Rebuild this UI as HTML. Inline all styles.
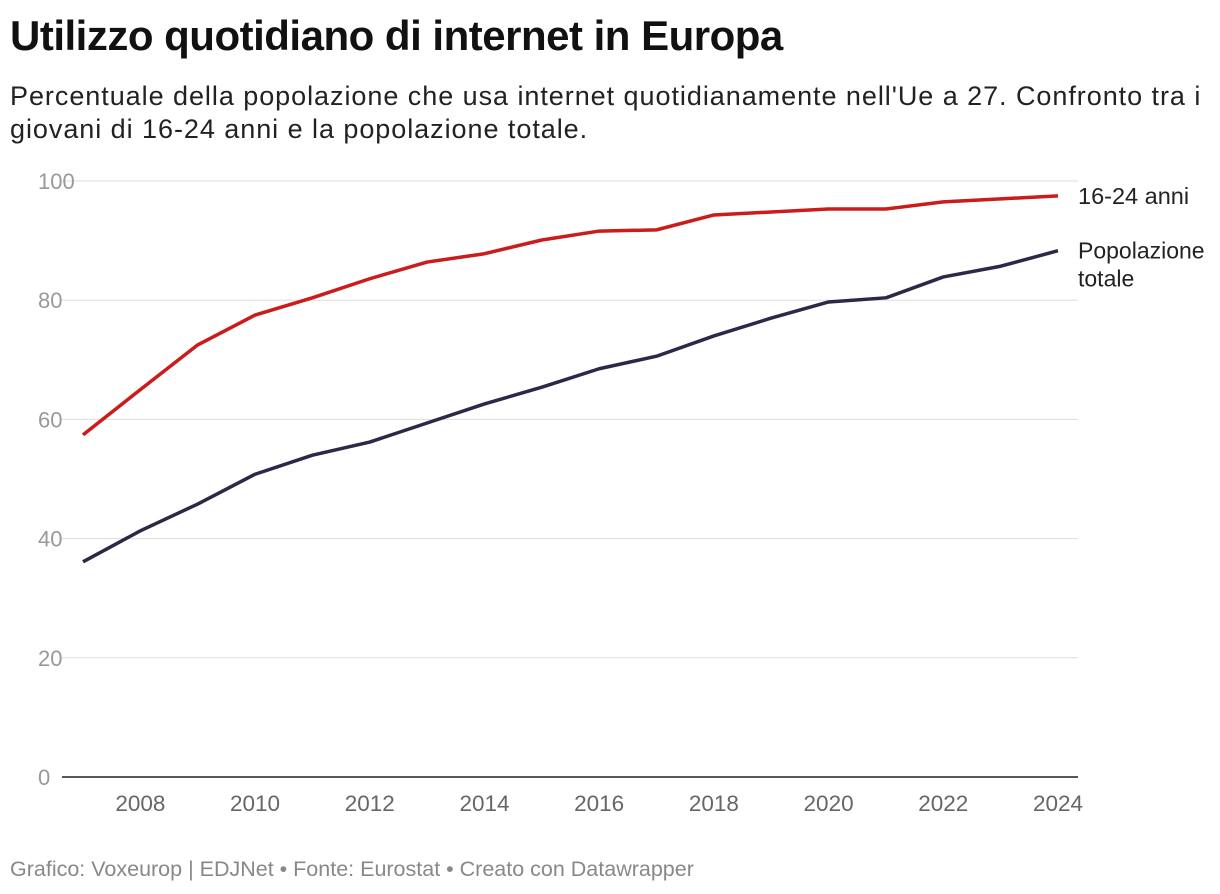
<!DOCTYPE html>
<html><head><meta charset="utf-8"><style>
body{margin:0;background:#fff;width:1220px;height:894px;overflow:hidden;font-family:"Liberation Sans",sans-serif}
h1{position:absolute;left:10px;top:12px;margin:0;font-size:42px;font-weight:bold;color:#111;letter-spacing:-0.5px}
.sub{position:absolute;left:10px;top:80px;width:1215px;font-size:27px;line-height:33px;color:#222;white-space:nowrap;letter-spacing:0.95px}
.foot{position:absolute;left:10px;top:857px;font-size:21.5px;color:#888}
svg{position:absolute;left:0;top:0}
</style></head><body>
<h1>Utilizzo quotidiano di internet in Europa</h1>
<div class="sub">Percentuale della popolazione che usa internet quotidianamente nell'Ue a 27. Confronto tra i<br>giovani di 16-24 anni e la popolazione totale.</div>
<svg id="c" width="1220" height="894"></svg>
<div class="foot">Grafico: Voxeurop | EDJNet • Fonte: Eurostat • Creato con Datawrapper</div>
<script>
const years=[2007,2008,2009,2010,2011,2012,2013,2014,2015,2016,2017,2018,2019,2020,2021,2022,2023,2024];
const youth=[57.4,65,72.5,77.5,80.4,83.6,86.4,87.8,90.1,91.6,91.8,94.3,94.8,95.3,95.3,96.5,97,97.5];
const total=[36.1,41.3,45.8,50.8,54,56.2,59.4,62.6,65.4,68.5,70.6,74,77,79.7,80.4,83.9,85.7,88.3];
const yTicks=[0,20,40,60,80,100];
const xTicks=[2008,2010,2012,2014,2016,2018,2020,2022,2024];
const NS="http://www.w3.org/2000/svg";
const svg=document.getElementById('c');
const x=v=>83+(v-2007)*(1058-83)/17;
const y=v=>777-v*(777-181)/100;
function mk(t,a){const e=document.createElementNS(NS,t);for(const k in a)e.setAttribute(k,a[k]);svg.appendChild(e);return e;}
yTicks.forEach(t=>{
 const l=mk('line',{x1:62,x2:1078,y1:y(t),y2:y(t),stroke:t===0?'#222':'#ddd','stroke-width':t===0?1.5:1});
 
 
 const tx=mk('text',{x:38,y:y(t)+8,'text-anchor':'start','font-size':22,fill:'#999'});
 tx.textContent=t;
 
 
});
xTicks.forEach(t=>{
 const tx=mk('text',{x:x(t),y:811,'text-anchor':'middle','font-size':22.5,fill:'#666'});
 tx.textContent=t;
 
 
});
function line(vals,col,name){
 const p=mk('path',{d:vals.map((v,i)=>(i?'L':'M')+x(years[i])+' '+y(v)).join(''),fill:'none',stroke:col,'stroke-width':3.5,'stroke-linejoin':'round'});
 
 
}
line(youth,'#cc1b1b','line-16-24-anni');
line(total,'#2d2847','line-popolazione-totale');
const l1=mk('text',{x:1078,y:y(youth[youth.length-1])+8,'font-size':23.5,fill:'#222'});
l1.textContent='16-24 anni';


const l2=mk('text',{x:1078,y:y(total[total.length-1])+8,'font-size':23,fill:'#222'});
l2.innerHTML='<tspan x="1078">Popolazione</tspan><tspan x="1078" dy="28">totale</tspan>';


</script>
</body></html>
